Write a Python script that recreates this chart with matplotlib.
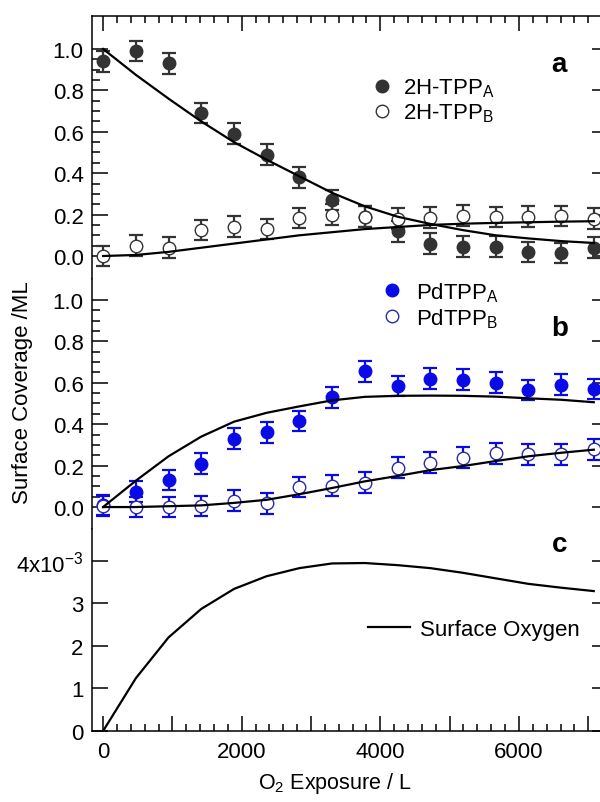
import matplotlib
matplotlib.use('Agg')
import matplotlib.pyplot as plt
import numpy as np
from matplotlib.ticker import MultipleLocator, FixedLocator, FuncFormatter

plt.rcParams['font.family'] = ['Liberation Sans', 'DejaVu Sans']
plt.rcParams['mathtext.fontset'] = 'custom'
plt.rcParams['mathtext.rm'] = 'Liberation Sans'
plt.rcParams['mathtext.it'] = 'Liberation Sans:italic'
plt.rcParams['mathtext.bf'] = 'Liberation Sans:bold'

# O2 exposure (L) of the measurements / model points
exposure = [0, 472, 944, 1416, 1888, 2360, 2832, 3304, 3776, 4248, 4720, 5192, 5664, 6136, 6608, 7080]

# panel a: 2H-TPP
h2_a = [0.94, 0.99, 0.93, 0.69, 0.59, 0.49, 0.38, 0.27, 0.19, 0.12, 0.06, 0.045, 0.045, 0.02, 0.015, 0.04]
h2_b = [0.0, 0.05, 0.04, 0.125, 0.142, 0.13, 0.184, 0.20, 0.19, 0.18, 0.185, 0.195, 0.188, 0.19, 0.193, 0.18]
h2_a_fit = [1.0, 0.875, 0.76, 0.65, 0.55, 0.465, 0.385, 0.305, 0.24, 0.19, 0.155, 0.125, 0.10, 0.085, 0.072, 0.063]
h2_b_fit = [0.0, 0.005, 0.02, 0.04, 0.06, 0.08, 0.10, 0.115, 0.13, 0.14, 0.15, 0.156, 0.16, 0.163, 0.166, 0.168]
h2_err = 0.05

# panel b: PdTPP
pd_a = [0.01, 0.075, 0.13, 0.21, 0.33, 0.36, 0.415, 0.53, 0.655, 0.585, 0.62, 0.615, 0.60, 0.565, 0.59, 0.57]
pd_b = [0.005, 0.0, 0.0, 0.005, 0.03, 0.018, 0.097, 0.103, 0.117, 0.19, 0.215, 0.238, 0.26, 0.255, 0.255, 0.278]
pd_a_fit = [0.0, 0.127, 0.245, 0.34, 0.412, 0.455, 0.486, 0.515, 0.532, 0.537, 0.538, 0.537, 0.533, 0.525, 0.518, 0.506]
pd_b_fit = [0.0, 0.0, 0.004, 0.008, 0.02, 0.035, 0.062, 0.092, 0.124, 0.15, 0.178, 0.198, 0.222, 0.245, 0.262, 0.277]
pd_err = 0.05

# panel c: surface oxygen (units of 1e-3 ML)
oxygen = [0.0, 1.24, 2.2, 2.87, 3.34, 3.64, 3.83, 3.94, 3.95, 3.90, 3.83, 3.72, 3.59, 3.46, 3.37, 3.29]

W, H = 600, 803
fig = plt.figure(figsize=(W / 100, H / 100), dpi=100)
left, right = 92, 608


def add_panel(top, bottom):
    return fig.add_axes([left / W, 1 - bottom / H, (right - left) / W, (bottom - top) / H])


ax_a = add_panel(17, 280)
ax_b = add_panel(280, 530)
ax_c = add_panel(530, 732)

gray = '#333333'
blue = '#0a0ae6'
blue_edge = '#2a2aa8'
fs = 16
lfs = 16

# ---- panel a
ax_a.errorbar(exposure, h2_a, yerr=h2_err, fmt='none', ecolor=gray, elinewidth=1.6,
              capsize=5, capthick=1.6, zorder=2)
ax_a.plot(exposure, h2_a, 'o', ms=9, color=gray, mec=gray, zorder=3, label='2H-TPP$_\\mathrm{A}$')
ax_a.errorbar(exposure, h2_b, yerr=h2_err, fmt='none', ecolor=gray, elinewidth=1.6,
              capsize=5, capthick=1.6, zorder=2)
ax_a.plot(exposure, h2_b, 'o', ms=9, mfc='white', mec=gray, mew=1.0, zorder=3, label='2H-TPP$_\\mathrm{B}$')
ax_a.plot(exposure, h2_a_fit, color='black', lw=1.6, zorder=4)
ax_a.plot(exposure, h2_b_fit, color='black', lw=1.6, zorder=4)
ax_a.set_ylim(-0.111, 1.159)
ax_a.legend(loc='upper left', bbox_to_anchor=(0.543, 0.77), frameon=False, fontsize=lfs,
            handlelength=0.9, handletextpad=0.5, labelspacing=0.1, borderpad=0, borderaxespad=0)
ax_a.text(0.905, 0.818, 'a', transform=ax_a.transAxes, fontsize=20, fontweight='bold',
          ha='center', va='center')

# ---- panel b
ax_b.errorbar(exposure, pd_a, yerr=pd_err, fmt='none', ecolor=blue, elinewidth=1.6,
              capsize=5, capthick=1.6, zorder=2)
ax_b.plot(exposure, pd_a, 'o', ms=9, color=blue, mec=blue, zorder=3, label='PdTPP$_\\mathrm{A}$')
ax_b.errorbar(exposure, pd_b, yerr=pd_err, fmt='none', ecolor=blue, elinewidth=1.6,
              capsize=5, capthick=1.6, zorder=2)
ax_b.plot(exposure, pd_b, 'o', ms=9, mfc='white', mec=blue_edge, mew=1.0, zorder=3, label='PdTPP$_\\mathrm{B}$')
ax_b.plot(exposure, pd_a_fit, color='black', lw=1.6, zorder=4)
ax_b.plot(exposure, pd_b_fit, color='black', lw=1.6, zorder=4)
ax_b.set_ylim(-0.106, 1.101)
ax_b.legend(loc='upper left', bbox_to_anchor=(0.562, 0.995), frameon=False, fontsize=lfs,
            handlelength=0.9, handletextpad=0.65, labelspacing=0.1, borderpad=0, borderaxespad=0)
ax_b.text(0.907, 0.804, 'b', transform=ax_b.transAxes, fontsize=20, fontweight='bold',
          ha='center', va='center')

# ---- panel c
ax_c.plot(exposure, np.array(oxygen) * 1e-3, color='black', lw=1.6, label='Surface Oxygen')
ax_c.set_ylim(0, 4.75e-3)
ax_c.legend(loc='upper left', bbox_to_anchor=(0.535, 0.555), frameon=False, fontsize=lfs,
            handlelength=1.9, handletextpad=0.45, borderpad=0, borderaxespad=0)
ax_c.text(0.907, 0.926, 'c', transform=ax_c.transAxes, fontsize=20, fontweight='bold',
          ha='center', va='center')

# ---- axes styling
for ax in (ax_a, ax_b, ax_c):
    ax.set_xlim(-160, 7285)
    for s in ax.spines.values():
        s.set_linewidth(1.1)
    ax.tick_params(axis='both', which='both', direction='in', width=1.1, labelsize=fs, pad=6)
    ax.tick_params(axis='y', which='major', length=11.5, left=True, right=True)
    ax.tick_params(axis='y', which='minor', length=5.8, left=True, right=False)

ax_a.spines['bottom'].set_visible(False)
ax_b.spines['top'].set_visible(False)
ax_b.spines['bottom'].set_visible(False)
ax_c.spines['top'].set_visible(False)

for ax in (ax_a, ax_b):
    ax.yaxis.set_major_locator(FixedLocator([0.0, 0.2, 0.4, 0.6, 0.8, 1.0]))
    ax.yaxis.set_minor_locator(FixedLocator([i * 0.05 for i in range(21)]))
    ax.yaxis.set_major_formatter(FuncFormatter(lambda v, p: '%.1f' % v))

ax_a.tick_params(axis='x', which='both', bottom=False, top=True, labelbottom=False)
ax_a.xaxis.set_major_locator(MultipleLocator(2000))
ax_a.xaxis.set_minor_locator(MultipleLocator(200))
ax_a.tick_params(axis='x', which='major', length=10.8)
ax_a.tick_params(axis='x', which='minor', length=5)

ax_b.tick_params(axis='x', which='both', bottom=False, top=False, labelbottom=False)

ax_c.xaxis.set_major_locator(MultipleLocator(1000))
ax_c.xaxis.set_minor_locator(MultipleLocator(200))
ax_c.xaxis.set_major_formatter(FuncFormatter(lambda v, p: '%d' % v if round(v) % 2000 == 0 else ''))
ax_c.tick_params(axis='x', which='major', length=10.8, pad=7)
ax_c.tick_params(axis='x', which='minor', length=5)
ax_c.yaxis.set_major_locator(FixedLocator([0, 1e-3, 2e-3, 3e-3, 4e-3]))
ax_c.set_yticklabels(['0', '1', '2', '3', '4x10$^{\\mathregular{-3}}$'])
ax_c.yaxis.set_minor_locator(FixedLocator([]))

fig.text(23 / W, 1 - 393 / H, 'Surface Coverage /ML', rotation=90, ha='center', va='center', fontsize=16)
fig.text(335 / W, 1 - 784 / H, 'O$_\\mathregular{2}$ Exposure / L', ha='center', va='center', fontsize=15.5)

fig.savefig('out.png', dpi=100)
